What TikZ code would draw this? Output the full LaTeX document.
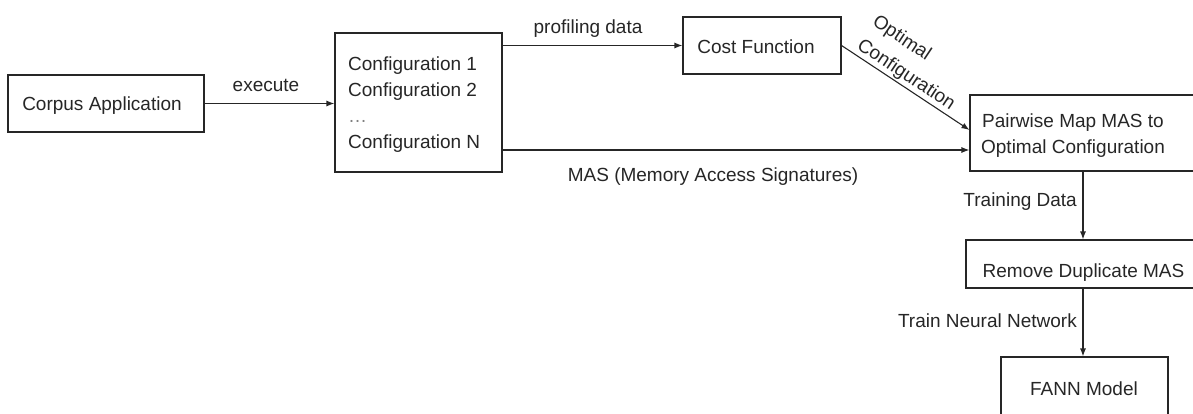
\documentclass[tikz,border=0pt]{standalone}
\usepackage{fontspec}
\setmainfont{Liberation Sans}
\usetikzlibrary{arrows.meta,calc}
\begin{document}
\begin{tikzpicture}[x=1pt,y=-1pt,
  box/.style={draw=black!85, line width=1.1pt, inner sep=0pt, rectangle},
  txt/.style={inner sep=0pt, font=\fontsize{19}{26}\selectfont, text=black!85},
  arr/.style={draw=black!85, line width=1.1pt, -{Latex[length=8pt,width=6pt]}}]
\useasboundingbox (0,0) rectangle (1193,414);
\clip (0,0) rectangle (1193,414);
% boxes
\node[box, minimum width=196pt, minimum height=57pt] (corpus) at (106,103.5) {};
\node[box, minimum width=167pt, minimum height=139pt] (config) at (418.5,102.5) {};
\node[box, minimum width=158pt, minimum height=57pt] (cf) at (762,45.5) {};
\node[box, minimum width=240pt, minimum height=76pt] (pw) at (1090,133) {};
\node[box, minimum width=244pt, minimum height=48pt] (rm) at (1088,264) {};
\node[box, minimum width=167pt, minimum height=64pt] (fann) at (1084.5,389) {};
% box texts
\node[txt, anchor=base] (corpusT) at (102,111) {Corpus Application};
\node[txt, anchor=base west, align=left] (configT) at (348,149) {Configuration 1\\Configuration 2\\{\color{gray}\ldots}\\Configuration N};
\node[txt, anchor=base] (cfT) at (756,54) {Cost Function};
\node[txt, anchor=base, align=center] (pwT) at (1073,154) {Pairwise Map MAS to\\Optimal Configuration};
\node[txt, anchor=base] (rmT) at (1083.5,277) {Remove Duplicate MAS};
\node[txt, anchor=base] (fannT) at (1084,395) {FANN Model};
% connector labels
\node[txt, anchor=base] (lexec) at (266,92) {execute};
\node[txt, anchor=base] (lprof) at (588,34) {profiling data};
\node[txt, anchor=base] (lmas) at (713,182) {MAS (Memory Access Signatures)};
\node[txt, anchor=base east] (ltrain) at (1077,206) {Training Data};
\node[txt, anchor=base east] (lnn) at (1077,327) {Train Neural Network};
\node[txt, anchor=base west, align=left, rotate=-33.6, font=\fontsize{19}{28}\selectfont] (lopt) at (856,48) {Optimal\\Configuration};
% connectors
\coordinate (tx) at (1083,0);
\coordinate (masy) at (0,150);
\draw[arr] (corpus.east) -- (corpus.east -| config.west);
\draw[arr] (config.east |- cf.west) -- (cf.west);
\draw[arr] (config.east |- masy) -- (pw.west |- masy);
\draw[arr] (cf.east) -- ($(pw.west)+(0,-3)$);
\draw[arr] (pw.south -| tx) -- (rm.north -| tx);
\draw[arr] (rm.south -| tx) -- (fann.north -| tx);
\end{tikzpicture}
\end{document}
